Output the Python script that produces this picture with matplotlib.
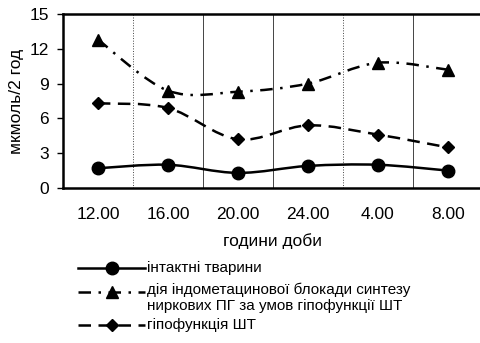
import numpy as np
import matplotlib
matplotlib.use("Agg")
import matplotlib.pyplot as plt
from matplotlib.path import Path
from matplotlib.patches import PathPatch
from matplotlib.lines import Line2D

plt.rcParams["font.family"] = ["Liberation Sans", "DejaVu Sans"]

# === DATA ===
hours = ["12.00", "16.00", "20.00", "24.00", "4.00", "8.00"]
intact = [1.7, 2.0, 1.3, 1.9, 2.0, 1.5]
indometh = [12.8, 8.4, 8.3, 9.0, 10.8, 10.2]
hypo = [7.3, 6.9, 4.2, 5.4, 4.6, 3.5]

lab_intact = "інтактні тварини"
lab_indometh = "дія індометацинової блокади синтезу\nниркових ПГ за умов гіпофункції ШТ"
lab_hypo = "гіпофункція ШТ"


def smooth_path(xs, ys):
    # Catmull-Rom style bezier through the points (like Excel "smoothed line")
    p = np.column_stack([xs, ys]).astype(float)
    verts = [p[0]]
    codes = [Path.MOVETO]
    n = len(p)
    for i in range(n - 1):
        p0 = p[i - 1] if i > 0 else p[i]
        p3 = p[i + 2] if i + 2 < n else p[i + 1]
        c1 = p[i] + (p[i + 1] - p0) / 6
        c2 = p[i + 1] - (p3 - p[i]) / 6
        verts += [c1, c2, p[i + 1]]
        codes += [Path.CURVE4] * 3
    return Path(verts, codes)


fig = plt.figure(figsize=(4.8, 3.43), dpi=100)
ax = fig.add_axes([0.131, 0.452, 0.875, 0.507])

x = np.arange(len(hours))
series = [
    (intact, "o", 9, "-", lab_intact),
    (indometh, "^", 9, (0, (5, 3, 1, 3)), lab_indometh),
    (hypo, "D", 6.5, (0, (5, 3)), lab_hypo),
]
for vals, mk, ms, ls, lab in series:
    ax.add_patch(PathPatch(smooth_path(x, vals), fill=False, edgecolor="black",
                           lw=1.8, linestyle=ls, capstyle="butt"))
    ax.plot(x, vals, linestyle="none", marker=mk, ms=ms, color="black")

ax.set_xlim(-0.5, 5.5)
ax.set_ylim(0, 15)
ax.set_yticks([0, 3, 6, 9, 12, 15])
ax.set_xticks(x)
ax.set_xticklabels(hours)
for b in x[:-1] + 0.5:
    ax.axvline(b, color="#444444", lw=0.7,
               linestyle=":" if b in (0.5, 3.5) else "-", zorder=0)

for s in ["left", "bottom", "top"]:
    ax.spines[s].set_linewidth(1.8)
ax.spines["right"].set_visible(False)
ax.tick_params(axis="both", labelsize=12.5, length=4, width=1)
ax.tick_params(axis="y", pad=6)
ax.tick_params(axis="x", length=0, pad=14)
ax.set_xlabel("години доби", fontsize=12.5, labelpad=8)
ax.set_ylabel("мкмоль/2 год", fontsize=12.5, labelpad=4)

# legend below the chart
leg_rows = [(0.219, 0.219), (0.149, 0.176), (0.052, 0.052)]
for (vals, mk, ms, ls, lab), (yh, yt) in zip(series, leg_rows):
    fig.add_artist(Line2D([0.163, 0.302], [yh, yh], color="black", lw=1.8, linestyle=ls,
                          transform=fig.transFigure))
    fig.add_artist(Line2D([0.2325], [yh], marker=mk, ms=ms, color="black",
                          transform=fig.transFigure))
    fig.text(0.307, yt, lab, fontsize=11, va="top" if "\n" in lab else "center",
             ha="left", linespacing=1.15)

fig.savefig("out.png", dpi=100)
